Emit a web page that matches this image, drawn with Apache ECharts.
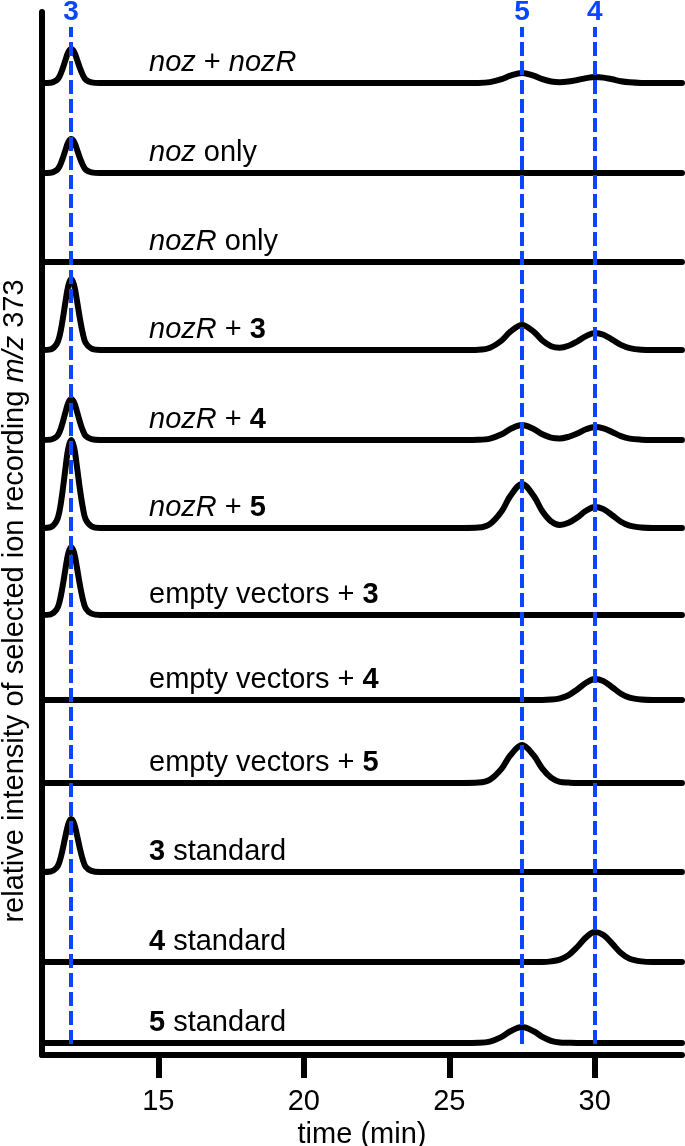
<!DOCTYPE html>
<html><head><meta charset="utf-8">
<script src="https://cdn.jsdelivr.net/npm/echarts@6/dist/echarts.min.js"></script>
<style>html,body{margin:0;padding:0;background:#fff}#c{width:685px;height:1146px}</style>
</head><body><div id="c"></div>
<script>
// ---- data (retention time in min, relative intensity) ----
const time = [11.0,11.3,11.5,11.6,11.7,11.8,11.9,12.0,12.1,12.2,12.3,12.4,12.5,12.7,13.0,15.0,20.0,25.0,25.5,26.0,26.4,26.8,27.1,27.5,27.9,28.2,28.5,28.8,29.1,29.4,29.7,30.0,30.3,30.6,30.9,31.2,31.6,32.0,33.0];
const traceLabels = ['{i|noz} + {i|nozR}','{i|noz} only','{i|nozR} only','{i|nozR} + {b|3}','{i|nozR} + {b|4}','{i|nozR} + {b|5}','empty vectors + {b|3}','empty vectors + {b|4}','empty vectors + {b|5}','{b|3} standard','{b|4} standard','{b|5} standard'];
const nozNozR  = [0,0.3,2.7,6.5,13.6,22.4,30.6,34,31.3,23.8,15.3,8.2,3.4,0.7,0, 0,0,0, 0,0.1,0.9,3.8,7.3,10,7.3,3.8,1.5,0.8,1.5,3.0,4.9,6,5.4,3.7,1.8,0.7,0.1,0,0];
const nozOnly  = [0,0.3,2.7,6.5,13.6,22.4,30.6,34,31.3,23.8,15.3,8.2,3.4,0.7,0, 0,0,0, 0,0,0,0,0,0,0,0,0,0,0,0,0,0,0,0,0,0,0,0,0];
const nozROnly = [0,0,0,0,0,0,0,0,0,0,0,0,0,0,0, 0,0,0, 0,0,0,0,0,0,0,0,0,0,0,0,0,0,0,0,0,0,0,0,0];
const nozR3    = [0,0.7,5.7,13.5,28.4,46.9,63.9,71,65.3,49.7,32,17,7.1,1.4,0, 0,0,0, 0,0.3,2.3,9.5,18.3,25,18.3,9.5,3.8,2.2,4.2,8.5,13.9,17,15.3,10.4,5.1,1.9,0.3,0,0];
const nozR4    = [0,0.4,3.3,7.8,16.4,27.1,36.9,41,37.7,28.7,18.5,9.8,4.1,0.8,0, 0,0,0, 0,0.2,1.4,5.7,11,15,11,5.7,2.4,1.5,3.2,6.5,10.7,13,11.7,7.9,3.9,1.4,0.3,0,0];
const nozR5    = [0,0.9,7,16.7,35.2,58.1,79.2,88,81,61.6,39.6,21.1,8.8,1.8,0, 0,0,0, 0,0.4,4,16.7,32.1,44,32.1,16.7,6.6,3.0,5.2,10.5,17.2,21,18.9,12.8,6.3,2.3,0.4,0,0];
const empty3   = [0,0.7,5.4,12.9,27.2,44.9,61.2,68,62.6,47.6,30.6,16.3,6.8,1.4,0, 0,0,0, 0,0,0,0,0,0,0,0,0,0,0,0,0,0,0,0,0,0,0,0,0];
const empty4   = [0,0,0,0,0,0,0,0,0,0,0,0,0,0,0, 0,0,0, 0,0,0,0,0,0,0,0,0.4,1.7,4.8,10.5,17.2,21,18.9,12.8,6.3,2.3,0.4,0,0];
const empty5   = [0,0,0,0,0,0,0,0,0,0,0,0,0,0,0, 0,0,0, 0,0.4,3.4,14.4,27.7,38,27.7,14.4,5.3,1.1,0.4,0,0,0,0,0,0,0,0,0,0];
const std3     = [0,0.5,4.2,10.1,21.2,35,47.7,53,48.8,37.1,23.9,12.7,5.3,1.1,0, 0,0,0, 0,0,0,0,0,0,0,0,0,0,0,0,0,0,0,0,0,0,0,0,0];
const std4     = [0,0,0,0,0,0,0,0,0,0,0,0,0,0,0, 0,0,0, 0,0,0,0,0,0,0,0,0.6,2.4,6.9,15,24.6,30,27,18.3,9,3.3,0.6,0,0];
const std5     = [0,0,0,0,0,0,0,0,0,0,0,0,0,0,0, 0,0,0, 0,0.2,1.4,6.1,11.7,16,11.7,6.1,2.2,0.5,0.2,0,0,0,0,0,0,0,0,0,0];
const xTicks = [15,20,25,30];
const peakTimes = [12.0, 27.5, 30.0];
const peakLabels = ['3','5','4'];
const yTitle = 'relative intensity of selected ion recording {i|m/z} 373';
const xTitle = 'time (min)';

// ---- layout ----
const traces = [nozNozR,nozOnly,nozROnly,nozR3,nozR4,nozR5,empty3,empty4,empty5,std3,std4,std5];
const baseY = [83,173,262,350,440,528,615,700,783,872,962,1043];
const FONT = 'Liberation Sans, Arial, sans-serif';
const BLUE = '#0a46ff';
const L = 42, R = 3, AX_TOP = 12, AX_BOTTOM = 91;
const H = 1146 - AX_TOP - AX_BOTTOM;

const grids = [], xAxes = [], yAxes = [], series = [];
traces.forEach((tr, i) => {
  grids.push({left: L, right: R, top: baseY[i] - 100, height: 100, outerBoundsMode: 'none', containLabel: false});
  xAxes.push({gridIndex: i, type: 'value', min: 11, max: 33, show: false});
  yAxes.push({gridIndex: i, type: 'value', min: 0, max: 100, show: false});
  series.push({
    type: 'line', xAxisIndex: i, yAxisIndex: i, z: 3,
    data: time.map((t, k) => [t, tr[k]]),
    showSymbol: false, symbol: 'none', smooth: 0.35, clip: false,
    lineStyle: {color: '#000', width: 6, cap: 'round', join: 'round'},
    silent: true
  });
});
const ai = traces.length;
grids.push({left: L, right: R, top: AX_TOP, bottom: AX_BOTTOM, outerBoundsMode: 'none', containLabel: false});
xAxes.push({
  gridIndex: ai, type: 'value', min: 11, max: 33,
  name: xTitle, nameLocation: 'middle', nameGap: 58,
  nameTextStyle: {fontSize: 29, color: '#000', fontFamily: FONT},
  axisLine: {show: true, lineStyle: {color: '#000', width: 6}},
  axisTick: {show: true, customValues: xTicks, length: 23, lineStyle: {color: '#000', width: 6}},
  axisLabel: {show: true, customValues: xTicks, margin: 32, fontSize: 29, color: '#000', fontFamily: FONT},
  splitLine: {show: false}
});
yAxes.push({
  gridIndex: ai, type: 'value', min: 0, max: H,
  axisLine: {show: true, lineStyle: {color: '#000', width: 6}},
  axisTick: {show: false}, axisLabel: {show: false}, splitLine: {show: false}
});
series.push({
  type: 'line', xAxisIndex: ai, yAxisIndex: ai, data: [], z: 10, silent: true,
  markLine: {
    symbol: 'none', silent: true, animation: false,
    lineStyle: {color: BLUE, width: 4, type: [14, 5]},
    label: {show: true, position: 'end', distance: 1, color: BLUE, fontSize: 28, fontWeight: 'bold', fontFamily: FONT, formatter: p => p.name},
    data: peakTimes.map((t, i) => [{coord: [t, 11], name: peakLabels[i]}, {coord: [t, 1028]}])
  }
});

const rich = {
  i: {fontStyle: 'italic', fontSize: 29, fontFamily: FONT, fill: '#000'},
  b: {fontWeight: 'bold', fontSize: 29, fontFamily: FONT, fill: '#000'}
};
const graphics = traceLabels.map((s, i) => ({
  type: 'text', left: 149, top: baseY[i] - 35, z: 20,
  style: {text: s, rich: rich, fontSize: 29, fontFamily: FONT, fill: '#000'}
}));
graphics.push({
  type: 'text', x: 15, y: 601, rotation: Math.PI / 2, z: 20,
  style: {text: yTitle, rich: rich, fontSize: 29, fontFamily: FONT, fill: '#000', align: 'center', verticalAlign: 'middle'}
});

const chart = echarts.init(document.getElementById('c'), null, {renderer: 'canvas'});
chart.setOption({
  animation: false,
  backgroundColor: '#fff',
  grid: grids, xAxis: xAxes, yAxis: yAxes, series: series,
  graphic: graphics
});
</script></body></html>
